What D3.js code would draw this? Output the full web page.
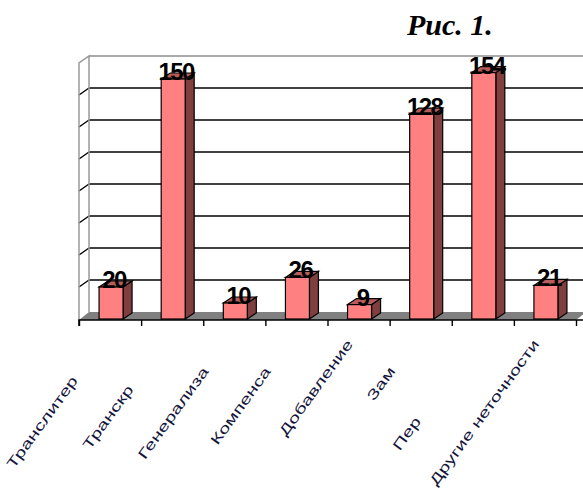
<!DOCTYPE html>
<html>
<head>
<meta charset="utf-8">
<script src="https://cdn.jsdelivr.net/npm/d3@7"></script>
<style>
  html, body { margin: 0; padding: 0; background: #fff; }
  svg { display: block; }
</style>
</head>
<body>
<svg id="chart" width="583" height="488"></svg>
<script>
// Categories of translation transformations and their counts
const categories = ["Транслитерация", "Транскрипция", "Генерализация", "Компенсация",
                    "Добавление", "Замена", "Перестановка", "Другие неточности"];
const values = [20, 150, 10, 26, 9, 128, 154, 21];
// How many characters of each category label stay visible under the axis
const shownChars = [10, 7, 10, 8, 10, 3, 3, 17];
const yTicks = [0, 20, 40, 60, 80, 100, 120, 140, 160];
const title = "Рис. 1.";

const svg = d3.select("#chart");

// Front plane of the 3-D plot; the back wall is shifted by (wallDX, wallDY)
const plotLeft = 79, plotRight = 576, plotBase = 319, plotTop = 63;
const wallDX = 10, wallDY = -7;
const barDX = 9, barDY = -6;
const barW = 24;

const x = d3.scaleBand().domain(categories).range([plotLeft, plotRight]);
const y = d3.scaleLinear().domain([0, 160]).range([plotBase, plotTop]);

// Floor
svg.append("path")
  .attr("d", `M${plotLeft},${plotBase + 1}L${plotRight},${plotBase + 1}L${plotRight + wallDX},${plotBase + wallDY}L${plotLeft + wallDX},${plotBase + wallDY}Z`)
  .attr("fill", "#808080");

// Back wall gridlines
svg.append("g").selectAll("line")
  .data(yTicks.filter(t => t > 0))
  .join("line")
  .attr("x1", plotLeft + wallDX).attr("x2", 593)
  .attr("y1", d => y(d) + wallDY).attr("y2", d => y(d) + wallDY)
  .attr("stroke", d => d === 160 ? "#8c8c8c" : "#000")
  .attr("stroke-width", d => d === 160 ? 1.5 : 1.6);

// Side wall: slanted gridlines and edges
svg.append("g").selectAll("line")
  .data(yTicks.filter(t => t > 0 && t < 160))
  .join("line")
  .attr("x1", plotLeft).attr("x2", plotLeft + wallDX)
  .attr("y1", d => y(d)).attr("y2", d => y(d) + wallDY)
  .attr("stroke", "#000").attr("stroke-width", 1.4);

svg.append("path")
  .attr("d", `M${plotLeft},${plotBase + 1}L${plotLeft},${y(160)}L${plotLeft + wallDX},${y(160) + wallDY}L${plotLeft + wallDX},${plotBase + wallDY}`)
  .attr("fill", "none").attr("stroke", "#9a9a9a").attr("stroke-width", 1.5);

// Category axis along the front edge of the floor
const xEdge = d3.scaleLinear().domain([0, categories.length]).range([plotLeft, plotRight]);
const axis = svg.append("g")
  .attr("transform", `translate(0,${plotBase + 1})`)
  .call(d3.axisBottom(xEdge).ticks(categories.length).tickSize(6).tickFormat(""));
axis.select(".domain").attr("stroke", "#000").attr("stroke-width", 1.6)
  .attr("d", `M${plotLeft},6V0H${plotRight + 7}`);
axis.selectAll(".tick line").attr("stroke", "#000").attr("stroke-width", 1.4);

// Bars: side face, top face, front face
const bars = svg.append("g").selectAll("g")
  .data(categories.map((c, i) => ({ c, v: values[i] })))
  .join("g");

bars.each(function (d) {
  const g = d3.select(this);
  const cx = x(d.c) + x.bandwidth() / 2 + 1;
  const x0 = cx - barW / 2, x1 = cx + barW / 2;
  const yt = y(d.v), yb = y(0);
  g.append("path")
    .attr("d", `M${x1},${yb}L${x1 + barDX},${yb + barDY}L${x1 + barDX},${yt + barDY}L${x1},${yt}Z`)
    .attr("fill", "#7f3f3f").attr("stroke", "#000").attr("stroke-width", 1.2);
  g.append("path")
    .attr("d", `M${x0},${yt}L${x0 + barDX},${yt + barDY}L${x1 + barDX},${yt + barDY}L${x1},${yt}Z`)
    .attr("fill", "#b85c5c").attr("stroke", "#000").attr("stroke-width", 1.2);
  g.append("rect")
    .attr("x", x0).attr("y", yt).attr("width", barW).attr("height", yb - yt)
    .attr("fill", "#ff8080").attr("stroke", "#000").attr("stroke-width", 1.2);
});

// Value labels above each bar
svg.append("g").selectAll("text")
  .data(categories.map((c, i) => ({ c, v: values[i] })))
  .join("text")
  .attr("x", d => x(d.c) + x.bandwidth() / 2 + 4)
  .attr("y", d => y(d.v) + 1)
  .attr("text-anchor", "middle")
  .attr("font-family", "'Liberation Sans', Arial, sans-serif")
  .attr("font-weight", "bold")
  .attr("font-size", 24)
  .attr("letter-spacing", -1.5)
  .attr("fill", "#000")
  .text(d => d.v);

// Rotated category labels (stretched along the baseline), each clipped
// to its visible leading part
const defs = svg.append("defs");
const labels = svg.append("g");
categories.forEach((c, i) => {
  const ax = x(c) + x.bandwidth() / 2 - 5, ay = 344;
  const t = labels.append("text")
    .attr("transform", `translate(${ax},${ay}) rotate(-54) scale(1.45,1)`)
    .attr("text-anchor", "end")
    .attr("font-family", "'Liberation Sans', Arial, sans-serif")
    .attr("font-size", 14)
    .attr("fill", "#14143c")
    .text(c);
  const node = t.node();
  const full = node.getComputedTextLength();
  const shown = node.getSubStringLength(0, shownChars[i]);
  defs.append("clipPath").attr("id", "lab" + i)
    .append("rect")
    .attr("x", -full - 4).attr("y", -30)
    .attr("width", shown + 4).attr("height", 40);
  t.attr("clip-path", `url(#lab${i})`);
});

// Figure caption
svg.append("text")
  .attr("x", 407).attr("y", 35)
  .attr("font-family", "'Liberation Serif', 'Times New Roman', serif")
  .attr("font-weight", "bold")
  .attr("font-style", "italic")
  .attr("font-size", 30)
  .attr("fill", "#000")
  .text(title);
</script>
</body>
</html>
